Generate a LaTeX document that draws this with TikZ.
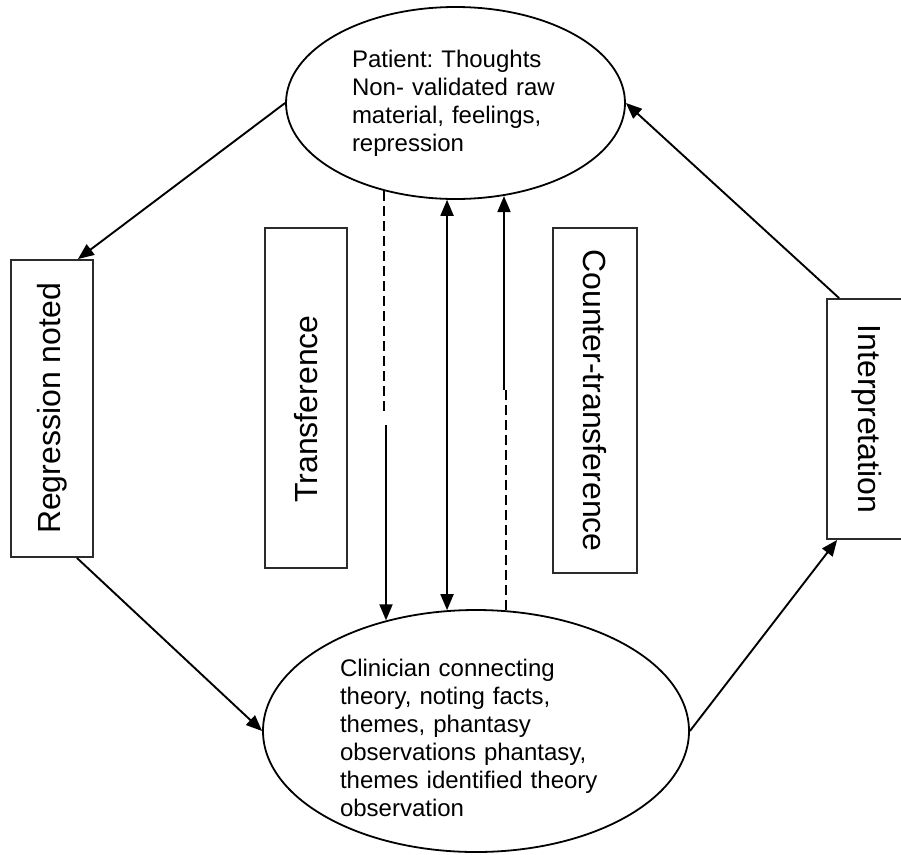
\documentclass[tikz,border=0pt]{standalone}
\usepackage{fontspec}
\setmainfont{Liberation Sans}
\usepackage{graphicx}
\usetikzlibrary{arrows.meta, shapes.geometric}
\definecolor{ink}  {HTML}{000000}
\definecolor{frame}{HTML}{2B2B2B}
\frenchspacing

\tikzset{
  bubble/.style={draw=ink, ellipse, line width=1.8pt, inner sep=0pt},
  phase/.style={draw=frame, line width=1.8pt, inner sep=0pt,
    font=\fontsize{32}{36}\selectfont},
  note/.style={align=left, inner sep=0pt, font=\fontsize{24}{28}\selectfont},
  flow/.style={ink, line width=1.9pt, -{Triangle[length=16pt,width=13pt]}},
  twoway/.style={ink, line width=1.9pt,
    {Triangle[length=16pt,width=13pt]}-{Triangle[length=16pt,width=13pt]}},
  faint/.style={ink, line width=1.9pt, dash pattern=on 10pt off 5pt}
}

\begin{document}
\begin{tikzpicture}[x=1pt, y=-1pt]
  \clip (0,0) rectangle (901,854);

  % patient above, clinician below
  \node[bubble, minimum width=339pt, minimum height=192pt] (patient) at (455.5,103) {};
  \node[note, text width=207pt] (patient-text) at (455.5,103)
    {Patient: Thoughts\\Non- validated raw\\material, feelings,\\repression};
  \node[bubble, minimum width=426pt, minimum height=242pt] (clinician) at (476,731) {};
  \node[note, text width=272pt] (clinician-text) at (476,738)
    {Clinician connecting\\theory, noting facts,\\themes, phantasy\\observations phantasy,\\themes identified theory\\observation};

  \node[phase, minimum width=82pt, minimum height=297pt] (regression) at (52,408.5)
    {\rotatebox{90}{Regression noted}};
  \node[phase, minimum width=82pt, minimum height=340pt] (transference) at (306,398)
    {\rotatebox{90}{Transference\hspace{22pt}}};
  \node[phase, minimum width=84pt, minimum height=345pt] (counter) at (595,400.5)
    {\rotatebox{-90}{Counter-transference}};
  \node[phase, minimum width=79pt, minimum height=240pt] (interp) at (866.5,419)
    {\rotatebox{-90}{Interpretation}};

  % the outer cycle
  \draw[flow] (patient.west) -- ([xshift=-16pt]regression.north east);
  \draw[flow] ([xshift=-17pt]regression.south east) -- (clinician.west);
  \draw[flow] (clinician.east) -- ([xshift=11pt]interp.south west);
  \draw[flow] ([xshift=13pt]interp.north west) -- (patient.east);

  % the three lines between the ellipses
  \coordinate (cut-a) at (386,413);
  \coordinate (cut-b) at (386,425);
  \coordinate (cut-c) at (504,390);
  \draw[faint] (patient.231.7) -- (patient.231.7 |- cut-a);
  \draw[flow] (cut-b) -- (cut-b |- clinician.129.3);
  \draw[twoway] (patient.265.5) -- (patient.265.5 |- clinician.103.1);
  \draw[faint] (clinician.76.9) -- (clinician.76.9 |- cut-c);
  \draw[flow] (cut-c) -- (cut-c |- patient.297.8);
\end{tikzpicture}
\end{document}
